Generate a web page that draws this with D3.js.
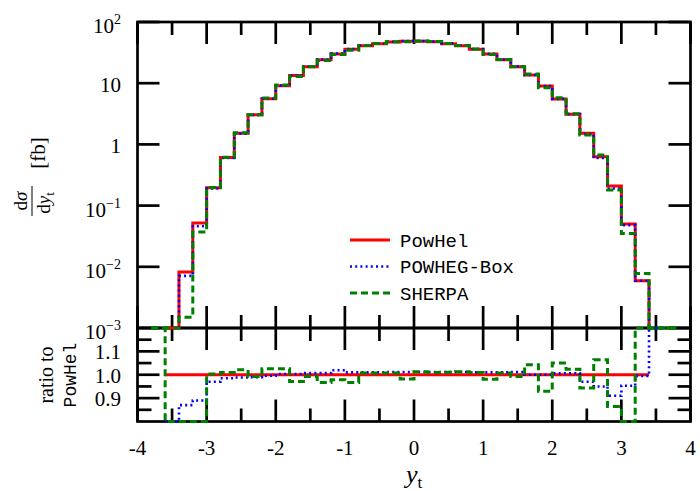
<!DOCTYPE html>
<meta charset="utf-8">
<title>Top rapidity: PowHel vs POWHEG-Box vs SHERPA</title>
<style>
  body { margin: 0; background-color: white; }
  svg { display: block; font-family: "Liberation Serif", serif; }
  .frame { stroke: #000; stroke-width: 2.7px; fill: none; }
  .ticks line { stroke: #000; stroke-width: 2.7px; }
  .tick-label { font-size: 21px; fill: #000; }
  .legend text { font-family: "Liberation Mono", monospace; font-size: 19px; fill: #000; }
</style>
<svg width="700" height="491"></svg>
<script src="https://d3js.org/d3.v7.min.js"></script>
<script>
// bin edges in y_t, bins of width 0.2
var binEdges = [-3.8, -3.6, -3.4, -3.2, -3.0, -2.8, -2.6, -2.4, -2.2, -2.0,
                -1.8, -1.6, -1.4, -1.2, -1.0, -0.8, -0.6, -0.4, -0.2, 0.0,
                 0.2,  0.4,  0.6,  0.8,  1.0,  1.2,  1.4,  1.6,  1.8, 2.0,
                 2.2,  2.4,  2.6,  2.8,  3.0,  3.2,  3.4,  3.6,  3.8];

// dsigma/dy_t [fb], one value per bin (null = empty bin)
var powhel = [null, 0.0006, 0.0082, 0.052, 0.196, 0.61, 1.52, 3.06, 5.58, 9.1,
              13.3, 18.6, 24.2, 30.0, 35.8, 41.0, 44.2, 47.1, 48.3, 48.3,
              47.5, 44.2, 41.0, 35.8, 30.0, 24.2, 18.6, 13.6, 9.0, 5.52,
              3.1, 1.52, 0.63, 0.209, 0.050, 0.0059, null, null];
var powheg = [null, null, 0.0071, 0.046, 0.19, 0.60, 1.50, 3.03, 5.56, 9.13,
              13.34, 18.73, 24.37, 30.57, 36.16, 41.41, 44.64, 47.66, 48.88, 48.88,
              48.07, 44.73, 41.49, 36.16, 30.3, 24.44, 18.82, 13.6, 9.0, 5.55,
              3.12, 1.47, 0.60, 0.19, 0.048, 0.0059, 0.0004, null];
var sherpa = [0.0006, 0.0004, 0.0015, 0.037, 0.197, 0.616, 1.55, 3.04, 5.72, 9.34,
              12.9, 18.5, 23.4, 29.4, 34.6, 41.3, 44.5, 47.4, 47.4, 48.9,
              48.0, 44.7, 41.5, 36.2, 29.4, 24.4, 18.5, 14.2, 8.4, 5.8,
              3.17, 1.43, 0.67, 0.18, 0.035, 0.0078, 0.0005, 0.0003];

// ratio to PowHel, one value per bin
var ratioPowhel = [null, 1, 1, 1, 1, 1, 1, 1, 1, 1,
                   1, 1, 1, 1, 1, 1, 1, 1, 1, 1,
                   1, 1, 1, 1, 1, 1, 1, 1, 1, 1,
                   1, 1, 1, 1, 1, 1, null, null];
var ratioPowheg = [null, 0, 0.87, 0.89, 0.97, 0.985, 0.988, 0.99, 0.996, 1.003,
                   1.003, 1.007, 1.007, 1.019, 1.01, 1.01, 1.01, 1.012, 1.012, 1.012,
                   1.012, 1.012, 1.012, 1.01, 1.01, 1.01, 1.012, 1.0, 1.0, 1.006,
                   1.006, 0.97, 0.95, 0.91, 0.953, 0.995, Infinity, null];
var ratioSherpa = [Infinity, 0.67, 0.19, 0.71, 1.003, 1.01, 1.021, 0.993, 1.026, 1.026,
                   0.971, 0.993, 0.967, 0.979, 0.967, 1.007, 1.007, 1.007, 0.982, 1.013,
                   1.01, 1.011, 1.013, 1.01, 0.981, 1.007, 0.993, 1.043, 0.929, 1.05,
                   1.024, 0.943, 1.064, 0.864, 0.70, 1.32, Infinity, Infinity];

var seriesNames = ["PowHel", "POWHEG-Box", "SHERPA"];

var xTicks = [-4, -3, -2, -1, 0, 1, 2, 3, 4];
var xTickLabels = ["-4", "-3", "-2", "-1", "0", "1", "2", "3", "4"];
var xMinorTicks = [-3.5, -2.5, -1.5, -0.5, 0.5, 1.5, 2.5, 3.5];

var yTicks = [100, 10, 1, 0.1, 0.01, 0.001];
var yTickBase = ["10", "10", "1", "10", "10", "10"];
var yTickExp = ["2", "", "", "\u22121", "\u22122", "\u22123"];

var rTicks = [0.9, 1.0, 1.1];
var rTickLabels = ["0.9", "1.0", "1.1"];
var rMinorTicks = [0.85, 0.95, 1.05, 1.15];

var svg = d3.select("svg");

var plotLeft = 137.5, plotRight = 690.5, plotTop = 22, plotMid = 328, plotBottom = 421.5;

var x = d3.scaleLinear().domain([-4, 4]).range([plotLeft, plotRight]);
var yTop = d3.scaleLog().domain([1e-3, 1e2]).range([plotMid, plotTop]);
var yRat = d3.scaleLinear().domain([0.8, 1.2]).range([plotBottom, plotMid]);

var styles = [
  { color: "#ff0000", width: 3, dash: null },
  { color: "#0000ff", width: 2.6, dash: "2,3.2" },
  { color: "#008000", width: 3, dash: "7,4" }
];

// ---- frames ----
svg.append("rect").attr("class", "frame")
   .attr("x", plotLeft).attr("y", plotTop)
   .attr("width", plotRight - plotLeft).attr("height", plotMid - plotTop);
svg.append("rect").attr("class", "frame")
   .attr("x", plotLeft).attr("y", plotMid)
   .attr("width", plotRight - plotLeft).attr("height", plotBottom - plotMid);

// ---- ticks ----
var ticks = svg.append("g").attr("class", "ticks");
function vTicks(vals, len) {
  vals.forEach(function(v) {
    var px = x(v);
    ticks.append("line").attr("x1", px).attr("x2", px).attr("y1", plotTop).attr("y2", plotTop + len);
    ticks.append("line").attr("x1", px).attr("x2", px).attr("y1", plotMid - len).attr("y2", plotMid + len);
    ticks.append("line").attr("x1", px).attr("x2", px).attr("y1", plotBottom - len).attr("y2", plotBottom);
  });
}
vTicks(xTicks, 22);
vTicks(xMinorTicks, 13);

function hTicks(vals, scale, lenL, lenR) {
  vals.forEach(function(v) {
    var py = scale(v);
    ticks.append("line").attr("x1", plotLeft).attr("x2", plotLeft + lenL).attr("y1", py).attr("y2", py);
    ticks.append("line").attr("x1", plotRight - lenR).attr("x2", plotRight).attr("y1", py).attr("y2", py);
  });
}
hTicks(yTicks, yTop, 22, 22);
hTicks(rTicks, yRat, 22, 22);
hTicks(rMinorTicks, yRat, 14, 13);

// ---- tick labels ----
xTicks.forEach(function(v, i) {
  svg.append("text").attr("class", "tick-label")
     .attr("x", x(v)).attr("y", 455).attr("text-anchor", "middle")
     .text(xTickLabels[i]);
});

yTicks.forEach(function(v, i) {
  var t = svg.append("text").attr("class", "tick-label")
     .attr("x", 121).attr("y", yTop(v) + (yTickExp[i] ? 11 : 9))
     .attr("text-anchor", "end");
  t.append("tspan").text(yTickBase[i]);
  if (yTickExp[i]) {
    t.append("tspan").attr("dy", -9).style("font-size", "14px").text(yTickExp[i]);
  }
});

rTicks.forEach(function(v, i) {
  svg.append("text").attr("class", "tick-label")
     .attr("x", 121).attr("y", yRat(v) + 8).attr("text-anchor", "end")
     .text(rTickLabels[i]);
});

// ---- axis titles ----
var xt = svg.append("text").attr("x", 406).attr("y", 483).style("font-size", "26px");
xt.append("tspan").style("font-style", "italic").text("y");
xt.append("tspan").attr("dy", 5).style("font-size", "17px").text("t");

var yl = svg.append("g").attr("transform", "rotate(-90)");
var num = yl.append("text").attr("x", -201).attr("y", 27).attr("text-anchor", "middle")
            .style("font-size", "19px");
num.append("tspan").text("d");
num.append("tspan").style("font-style", "italic").text("\u03c3");
yl.append("line").attr("x1", -216).attr("x2", -186).attr("y1", 32).attr("y2", 32)
  .attr("stroke", "#000").attr("stroke-width", 1);
var den = yl.append("text").attr("x", -203).attr("y", 50).attr("text-anchor", "middle")
            .style("font-size", "19px");
den.append("tspan").text("d");
den.append("tspan").style("font-style", "italic").text("y");
den.append("tspan").attr("dy", 4).style("font-size", "13px").text("t");
yl.append("text").attr("x", -153).attr("y", 45).attr("text-anchor", "middle")
  .style("font-size", "21px").text("[fb]");

yl.append("text").attr("x", -375).attr("y", 53).attr("text-anchor", "middle")
  .style("font-size", "20px").text("ratio to");
yl.append("text").attr("x", -375).attr("y", 76).attr("text-anchor", "middle")
  .style("font-family", "'Liberation Mono', monospace").style("font-size", "18px").text("PowHel");

// ---- histogram steps ----
function stepPoints(vals, yScale, lo, hi, floor) {
  var pts = [];
  var first = -1, last = -1;
  vals.forEach(function(v, i) {
    if (v === null) return;
    if (first < 0) first = i;
    last = i;
    var c = Math.max(lo, Math.min(hi, v));
    pts.push([x(binEdges[i]), yScale(c)]);
    pts.push([x(binEdges[i + 1]), yScale(c)]);
  });
  if (floor) {
    pts.unshift([x(binEdges[first]), yScale(lo)]);
    pts.push([x(binEdges[last + 1]), yScale(lo)]);
  }
  return pts;
}

var line = d3.line();

[powhel, powheg, sherpa].forEach(function(vals, k) {
  svg.append("path")
     .attr("d", line(stepPoints(vals, yTop, 1e-3, 1e2, true)))
     .attr("fill", "none")
     .attr("stroke", styles[k].color)
     .attr("stroke-width", styles[k].width)
     .attr("stroke-dasharray", styles[k].dash);
});

[ratioPowhel, ratioPowheg, ratioSherpa].forEach(function(vals, k) {
  svg.append("path")
     .attr("d", line(stepPoints(vals, yRat, 0.8, 1.2, false)))
     .attr("fill", "none")
     .attr("stroke", styles[k].color)
     .attr("stroke-width", styles[k].width)
     .attr("stroke-dasharray", styles[k].dash);
});

// ---- legend ----
var legend = svg.append("g").attr("class", "legend");
seriesNames.forEach(function(name, k) {
  var ly = 240 + k * 26.5;
  legend.append("line")
        .attr("x1", 350).attr("x2", 390).attr("y1", ly).attr("y2", ly)
        .attr("stroke", styles[k].color)
        .attr("stroke-width", styles[k].width)
        .attr("stroke-dasharray", styles[k].dash);
  legend.append("text").attr("x", 400).attr("y", ly + 6.5).text(name);
});
</script>
